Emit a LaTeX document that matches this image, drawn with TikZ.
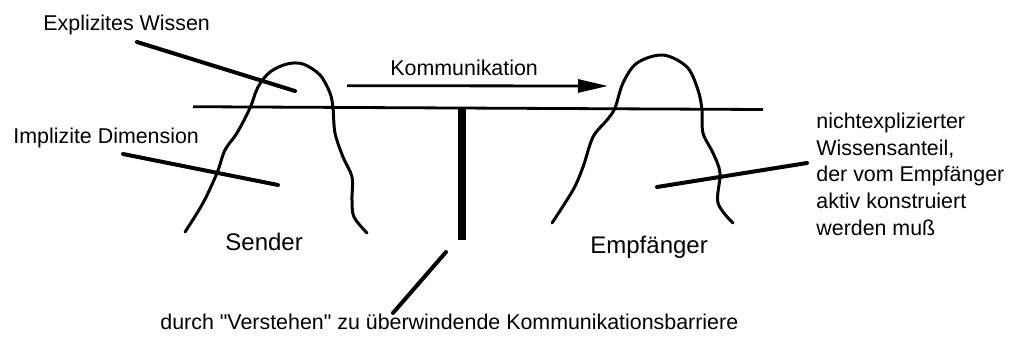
\documentclass[tikz,border=0pt]{standalone}
\usepackage{fontspec}
\setmainfont{Liberation Sans}[Ligatures=TeXOff]
\usetikzlibrary{arrows.meta}
\begin{document}
\begin{tikzpicture}[x=0.5pt,y=-0.5pt,
  lbl/.style={inner sep=0pt, anchor=base west, font=\fontsize{10.7pt}{13.35pt}\selectfont},
  biglbl/.style={inner sep=0pt, anchor=base west, font=\fontsize{12pt}{14pt}\selectfont},
  blob/.style={line width=1.5pt, line cap=round, line join=round},
  pointer/.style={line width=2pt, line cap=round},
  surface/.style={line width=1.4pt},
  barrier/.style={line width=4pt},
  flow/.style={line width=1.4pt, -{Triangle[length=15pt,width=6.5pt]}}]
\useasboundingbox (0,0) rectangle (1009,345);

% labels
\node[lbl] (expl) at (43,30.7) {Explizites Wissen};
\node[lbl] (impl) at (13,143) {Implizite Dimension};
\node[lbl] (komm) at (390,75) {Kommunikation};
\node[biglbl] (send) at (225,250) {Sender};
\node[biglbl] (empf) at (590,253) {Empfänger};
\node[lbl, anchor=north west, align=left] (rest) at (816,112.5)
  {nichtexplizierter\\Wissensanteil,\\der vom Empfänger\\aktiv konstruiert\\werden muß};
\node[lbl] (barr) at (160,329)
  {durch "Verstehen" zu überwindende Kommunikationsbarriere};

% pointer end points
\coordinate (explA) at (137,42);
\coordinate (explB) at (295,91);
\coordinate (implA) at (123,154);
\coordinate (implB) at (278,185);
\coordinate (restA) at (807,163);
\coordinate (restB) at (657,187);
\coordinate (barrA) at (393,313);
\coordinate (barrB) at (446,252);

% water surface and communication barrier
\coordinate (surfL) at (193,106.7);
\coordinate (surfR) at (763,109.5);
\coordinate (barTop) at (462,108);
\coordinate (barBot) at (462,240);
\draw[surface] (surfL) -- (surfR);
\draw[barrier] (barTop) -- (barBot);

% communication arrow
\coordinate (flowA) at (347,85.7);
\coordinate (flowB) at (608,86);
\draw[flow] (flowA) -- (flowB);

% sender iceberg
\draw[blob] plot[smooth, tension=0.55] coordinates {
  (185,232) (203,203) (217,173) (225,150) (237,133) (250,108) (258,87)
  (270,72) (287,64) (303,64) (320,75) (330,93) (333,108) (335,133)
  (343,157) (352,177) (352,200) (354,217) (367,233)};

% receiver iceberg
\draw[blob] plot[smooth, tension=0.55] coordinates {
  (552,223) (573,190) (583,167) (593,137) (607,120) (615,108) (623,83)
  (637,63) (663,55) (687,67) (698,90) (702,110) (703,133) (713,153)
  (720,173) (718,203) (733,223)};

% pointers
\draw[pointer] (explA) -- (explB);
\draw[pointer] (implA) -- (implB);
\draw[pointer] (restA) -- (restB);
\draw[pointer] (barrA) -- (barrB);
\end{tikzpicture}
\end{document}
